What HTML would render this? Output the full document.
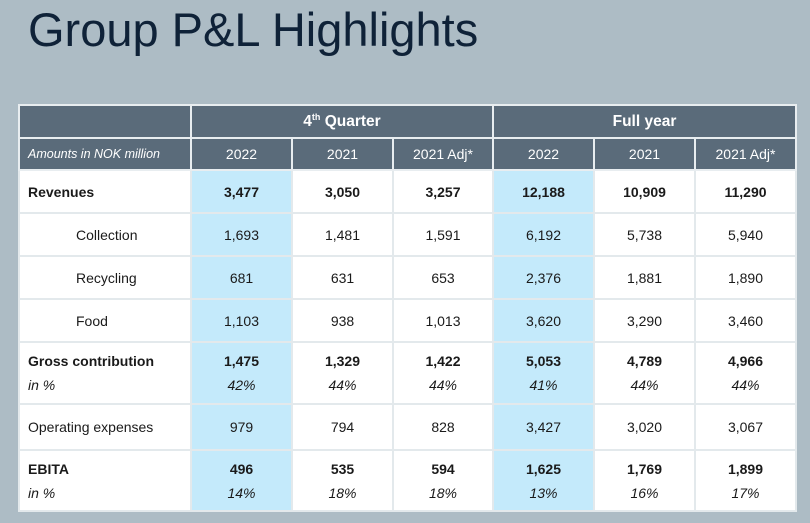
<!DOCTYPE html>
<html><head><meta charset="utf-8"><style>
body{margin:0;width:810px;height:523px;background:#adbcc5;font-family:"Liberation Sans",sans-serif;position:relative;overflow:hidden}
h1{position:absolute;left:28px;top:2px;margin:0;font-weight:normal;font-size:47px;letter-spacing:0px;color:#0f2238;white-space:nowrap}
table{position:absolute;left:18px;top:104px;border-collapse:collapse;table-layout:fixed;font-size:14px;color:#1a1a1a}
td,th{border:2px solid #e3e9ec;text-align:center;padding:0}
thead th{background:#5a6b7a;color:#fff;border-color:#e8edf0}
.h1 th{height:31px;font-size:15.5px;font-weight:bold}
.h2 th{height:30px;font-weight:normal;font-size:14px}
.h2 th.lab{text-align:left;padding-left:8px;font-style:italic;font-size:12.5px}
tbody td{background:#fff}
tbody td.hl{background:#c4eafb}
td.lab{text-align:left;padding-left:8px}
td.ind{padding-left:56px}
.b{font-weight:bold}
.i{font-style:italic}
.r1{height:43px}.r2{height:62px}.r3{height:61px}
.s{display:block;line-height:24px}
</style></head><body>
<h1>Group P&amp;L Highlights</h1>
<table>
<colgroup><col style="width:172px"><col style="width:101px"><col style="width:101px"><col style="width:100px"><col style="width:101px"><col style="width:101px"><col style="width:101px"></colgroup>
<thead>
<tr class="h1"><th></th><th colspan="3">4<sup style="font-size:9px">th</sup> Quarter</th><th colspan="3">Full year</th></tr>
<tr class="h2"><th class="lab">Amounts in NOK million</th><th>2022</th><th>2021</th><th>2021 Adj*</th><th>2022</th><th>2021</th><th>2021 Adj*</th></tr>
</thead>
<tbody>
<tr class="r1 b"><td class="lab">Revenues</td><td class="hl">3,477</td><td>3,050</td><td>3,257</td><td class="hl">12,188</td><td>10,909</td><td>11,290</td></tr>
<tr class="r1"><td class="lab ind">Collection</td><td class="hl">1,693</td><td>1,481</td><td>1,591</td><td class="hl">6,192</td><td>5,738</td><td>5,940</td></tr>
<tr class="r1"><td class="lab ind">Recycling</td><td class="hl">681</td><td>631</td><td>653</td><td class="hl">2,376</td><td>1,881</td><td>1,890</td></tr>
<tr class="r1"><td class="lab ind">Food</td><td class="hl">1,103</td><td>938</td><td>1,013</td><td class="hl">3,620</td><td>3,290</td><td>3,460</td></tr>
<tr class="r2"><td class="lab"><span class="s b">Gross contribution</span><span class="s i">in %</span></td><td class="hl"><span class="s b">1,475</span><span class="s i">42%</span></td><td><span class="s b">1,329</span><span class="s i">44%</span></td><td><span class="s b">1,422</span><span class="s i">44%</span></td><td class="hl"><span class="s b">5,053</span><span class="s i">41%</span></td><td><span class="s b">4,789</span><span class="s i">44%</span></td><td><span class="s b">4,966</span><span class="s i">44%</span></td></tr>
<tr style="height:46px"><td class="lab">Operating expenses</td><td class="hl">979</td><td>794</td><td>828</td><td class="hl">3,427</td><td>3,020</td><td>3,067</td></tr>
<tr class="r3"><td class="lab"><span class="s b">EBITA</span><span class="s i">in %</span></td><td class="hl"><span class="s b">496</span><span class="s i">14%</span></td><td><span class="s b">535</span><span class="s i">18%</span></td><td><span class="s b">594</span><span class="s i">18%</span></td><td class="hl"><span class="s b">1,625</span><span class="s i">13%</span></td><td><span class="s b">1,769</span><span class="s i">16%</span></td><td><span class="s b">1,899</span><span class="s i">17%</span></td></tr>
</tbody>
</table>
</body></html>
